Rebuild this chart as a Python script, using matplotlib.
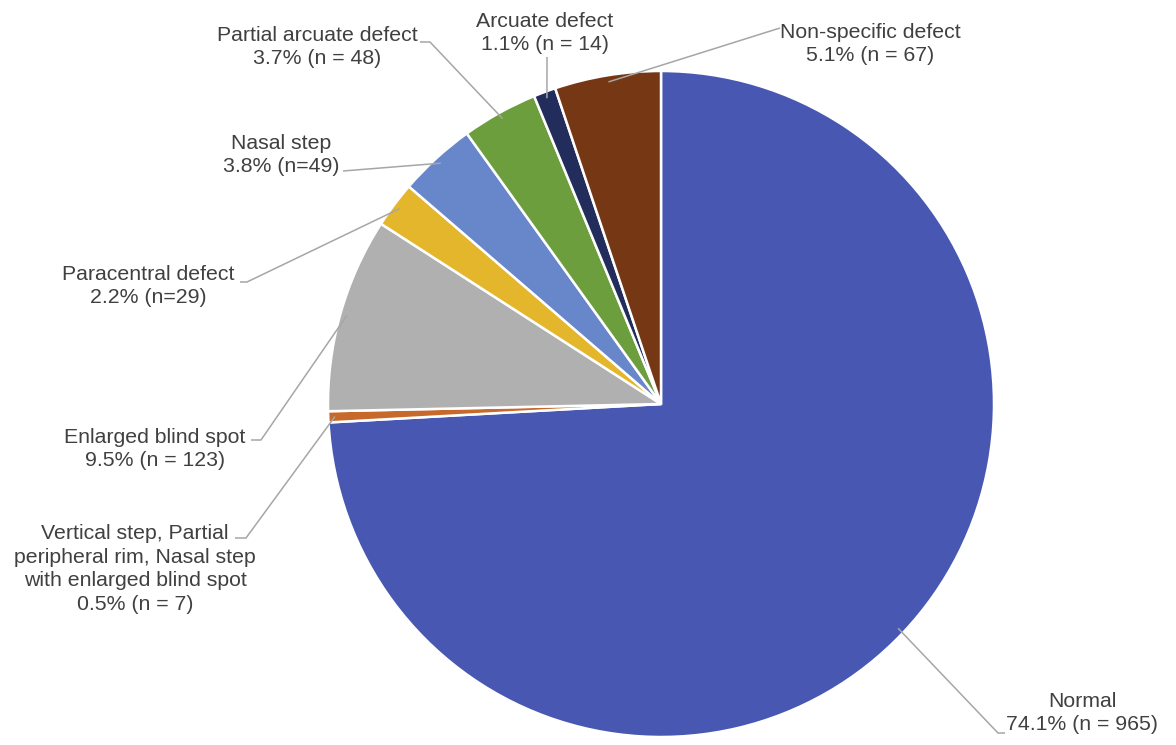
import numpy as np
import matplotlib
matplotlib.use("Agg")
import matplotlib.pyplot as plt

plt.rcParams["font.family"] = ["Liberation Sans", "DejaVu Sans"]

# slices in drawing order, clockwise from 12 o'clock
names = [
    "Normal",
    "Vertical step, Partial\nperipheral rim, Nasal step\nwith enlarged blind spot",
    "Enlarged blind spot",
    "Paracentral defect",
    "Nasal step",
    "Partial arcuate defect",
    "Arcuate defect",
    "Non-specific defect",
]
counts = [965, 7, 123, 29, 49, 48, 14, 67]
percents = [74.1, 0.5, 9.5, 2.2, 3.8, 3.7, 1.1, 5.1]
n_spaced = [True, True, True, False, False, True, True, True]
colors = ["#4858B2", "#C8692C", "#B0B0B0", "#E4B62B",
          "#6787CA", "#6C9E3D", "#222D5C", "#763714"]

W, H = 1176, 745
CX, CY, R = 661, 404, 333

# label layout in image pixels: text centre, leader elbow points
label_pos = [(1082, 713), (135, 569), (155, 449), (148, 286),
             (281, 155), (317, 47), (545, 33), (870, 44)]
leader_pts = [
    [(998, 733), (1005, 733)],
    [(246, 538), (235, 538)],
    [(261, 440), (251, 440)],
    [(247, 282), (240, 282)],
    [(343, 171)],
    [(430, 42), (420, 42)],
    [(547, 57)],
    [(780, 28)],
]


def flip(p):
    return (p[0], H - p[1])


fig = plt.figure(figsize=(W / 100, H / 100), dpi=100)
ax = fig.add_axes([0, 0, 1, 1])

wedges, _ = ax.pie(counts, colors=colors, startangle=90, counterclock=False,
                   center=(CX, H - CY), radius=R,
                   wedgeprops=dict(edgecolor="white", linewidth=1.8))
ax.set_xlim(0, W)
ax.set_ylim(0, H)
ax.set_aspect("equal")
ax.axis("off")

for w, name, pct, n, spaced, pos, pts in zip(wedges, names, percents, counts,
                                             n_spaced, label_pos, leader_pts):
    mid = np.deg2rad((w.theta1 + w.theta2) / 2)
    start = (CX + 0.98 * R * np.cos(mid), H - CY + 0.98 * R * np.sin(mid))
    xs = [start[0]] + [flip(p)[0] for p in pts]
    ys = [start[1]] + [flip(p)[1] for p in pts]
    ax.plot(xs, ys, color="#A6A6A6", lw=1.1, solid_capstyle="butt")
    nstr = f"(n = {n})" if spaced else f"(n={n})"
    ax.text(*flip(pos), f"{name}\n{pct}% {nstr}", ha="center", va="center",
            fontsize=15.3, color="#404040", linespacing=1.32)

fig.savefig("out.png", dpi=100, facecolor="white")
